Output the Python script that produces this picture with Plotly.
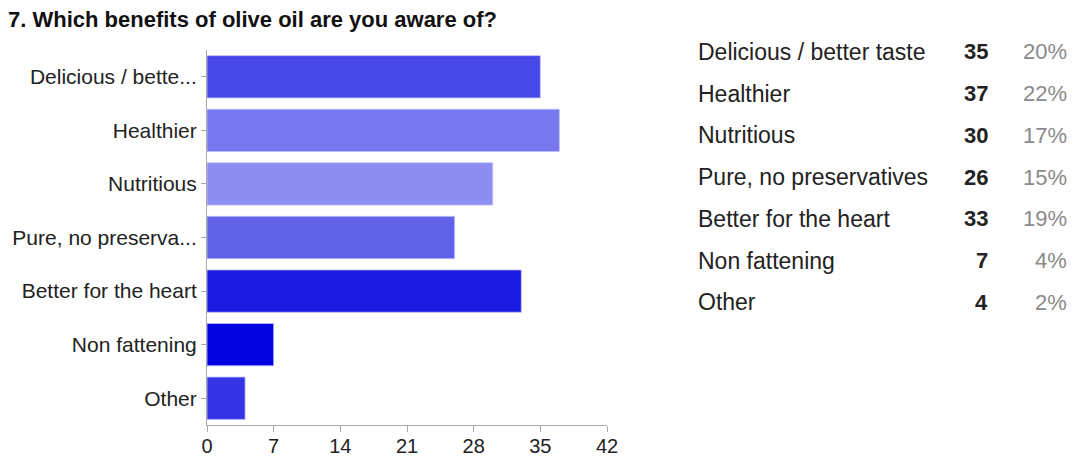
import plotly.graph_objects as go

# Survey answers: which benefits of olive oil respondents know about
categories = [
    "Delicious / better taste",
    "Healthier",
    "Nutritious",
    "Pure, no preservatives",
    "Better for the heart",
    "Non fattening",
    "Other",
]
axis_labels = [
    "Delicious / bette...",
    "Healthier",
    "Nutritious",
    "Pure, no preserva...",
    "Better for the heart",
    "Non fattening",
    "Other",
]
counts = [35, 37, 30, 26, 33, 7, 4]
bar_colors = ["#4848E8", "#7878EE", "#8E8EF2", "#6161E9", "#1A1AE0", "#0000E0", "#3434E6"]
x_ticks = [0, 7, 14, 21, 28, 35, 42]

W, H = 1075, 459
L, R, T, B = 207, 607, 50, 425  # plot area in pixels

total = sum(counts)
percents = [f"{round(100 * c / total)}%" for c in counts]

fig = go.Figure(
    go.Bar(
        x=counts,
        y=axis_labels,
        orientation="h",
        marker=dict(color=bar_colors, line=dict(color="rgba(190,190,255,0.8)", width=1)),
        hoverinfo="skip",
    )
)

font_family = "Liberation Sans, Arial, sans-serif"

fig.update_layout(
    width=W,
    height=H,
    margin=dict(l=L, r=W - R, t=T, b=H - B, pad=0, autoexpand=False),
    paper_bgcolor="white",
    plot_bgcolor="white",
    bargap=0.21,
    showlegend=False,
    font=dict(family=font_family, size=20, color="#222222"),
    title=dict(
        text="<b>7. Which benefits of olive oil are you aware of?</b>",
        x=8 / W,
        xanchor="left",
        xref="container",
        y=1 - 19 / H,
        yanchor="middle",
        font=dict(family=font_family, size=22, color="#111111"),
    ),
)

fig.update_xaxes(
    range=[0, 42],
    tickvals=x_ticks,
    showgrid=False,
    zeroline=False,
    showline=True,
    linecolor="#AAAAAA",
    linewidth=1,
    ticks="outside",
    ticklen=6,
    tickcolor="#AAAAAA",
    tickfont=dict(size=20, color="#222222"),
    ticklabelstandoff=-3,
    automargin=False,
    fixedrange=True,
)
fig.update_yaxes(
    categoryorder="array",
    categoryarray=axis_labels,
    autorange="reversed",
    showgrid=False,
    showline=True,
    linecolor="#AAAAAA",
    linewidth=1,
    ticks="outside",
    ticklen=5,
    tickcolor="#AAAAAA",
    tickfont=dict(size=21, color="#222222"),
    automargin=False,
    fixedrange=True,
)


def px_to_paper_x(px):
    return (px - L) / (R - L)


def px_to_paper_y(py):
    return (B - py) / (B - T)


# Summary table to the right of the chart
row_top, row_step = 52, 41.7
for i, (name, c, p) in enumerate(zip(categories, counts, percents)):
    yp = px_to_paper_y(row_top + i * row_step)
    common = dict(xref="paper", yref="paper", y=yp, yanchor="middle", showarrow=False)
    fig.add_annotation(text=name, x=px_to_paper_x(696), xanchor="left",
                       font=dict(family=font_family, size=23, color="#222222"), **common)
    fig.add_annotation(text=f"<b>{c}</b>", x=px_to_paper_x(990), xanchor="right",
                       font=dict(family=font_family, size=22, color="#222222"), **common)
    fig.add_annotation(text=p, x=px_to_paper_x(1069), xanchor="right",
                       font=dict(family=font_family, size=22, color="#8A8A8A"), **common)

fig.write_html("out.html", config={"displayModeBar": False})
